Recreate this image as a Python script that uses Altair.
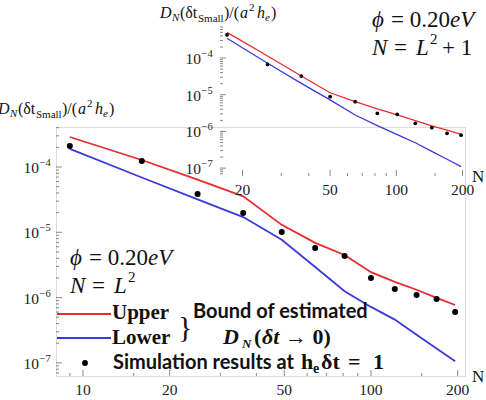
import altair as alt
import pandas as pd

# ---------------- data ----------------
N_MAIN = [9, 16, 25, 36, 49, 64, 81, 100, 121, 144, 169, 196]
UPPER_MAIN = [2.88e-4, 1.28e-4, 6.4e-5, 3.55e-5, 1.3e-5, 6.9e-6, 4.5e-6, 2.45e-6, 1.74e-6, 1.32e-6, 9.9e-7, 7.7e-7]
LOWER_MAIN = [1.89e-4, 6.9e-5, 3.2e-5, 1.71e-5, 7.7e-6, 2.94e-6, 1.25e-6, 7.2e-7, 4.6e-7, 2.7e-7, 1.66e-7, 1.06e-7]
SIM_MAIN = [2.1e-4, 1.24e-4, 3.86e-5, 1.98e-5, 1.01e-5, 5.75e-6, 4.33e-6, 2.0e-6, 1.36e-6, 1.10e-6, 9.5e-7, 6.0e-7]

N_INSET = [17, 26, 37, 50, 65, 82, 101, 122, 145, 170, 197]
UPPER_INSET = [5.0e-4, 1.13e-4, 3.23e-5, 1.13e-5, 6.45e-6, 4.13e-6, 2.8e-6, 1.98e-6, 1.41e-6, 1.08e-6, 8.3e-7]
LOWER_INSET = [3.44e-4, 7.2e-5, 2.04e-5, 7.2e-6, 2.8e-6, 1.44e-6, 8.2e-7, 4.9e-7, 2.86e-7, 1.74e-7, 1.1e-7]
SIM_INSET = [4.24e-4, 6.7e-5, 3.23e-5, 8.8e-6, 6.45e-6, 3.1e-6, 2.9e-6, 1.66e-6, 1.26e-6, 8.9e-7, 7.9e-7]

X_TICKS_MAIN = [10, 20, 50, 100, 200]
X_LABELS_MAIN = ["10", "20", "50", "100", "200"]
X_MINOR_MAIN = [9, 15, 30, 40, 60, 70, 80, 90, 150]
X_TICKS_INSET = [20, 50, 100, 200]
X_LABELS_INSET = ["20", "50", "100", "200"]
X_MINOR_INSET = [30, 40, 60, 70, 80, 90, 150]
Y_TICKS = [1e-7, 1e-6, 1e-5, 1e-4]
Y_TICK_BASE = ["10", "10", "10", "10"]
Y_TICK_EXP = ["−7", "−6", "−5", "−4"]
Y_MINOR = [m * 10.0 ** e for e in (-8, -7, -6, -5, -4) for m in range(2, 10)]

# ---------------- layout / style ----------------
PAD_L, PAD_T = 56, 127
W, H = 409, 249
RED = "#ec2a2e"
BLUE = "#3a3ade"
AX = "#555555"
INK = "#111111"
LAB = "#222222"
SERIF = "Liberation Serif"
SANS = "Lato"

X_MAIN_DOM = [8.058, 212.1]
Y_MAIN_DOM = [10 ** -7.2006, 10 ** -3.3874]
X_IN_DOM = [15.80, 205.2]
Y_IN_DOM = [10 ** -7.2153, 10 ** -3.1008]
X_IN_RANGE = [164, 409]
Y_IN_RANGE = [49, -102]

xm = alt.Scale(type="log", domain=X_MAIN_DOM, nice=False)
ym = alt.Scale(type="log", domain=Y_MAIN_DOM, nice=False)
xi = alt.Scale(type="log", domain=X_IN_DOM, range=X_IN_RANGE, nice=False)
yi = alt.Scale(type="log", domain=Y_IN_DOM, range=Y_IN_RANGE, nice=False)

common_axis = dict(ticks=False, labels=False, grid=False, title=None, domainColor=AX, domainWidth=1)
ax_x_main = alt.Axis(orient="bottom", **common_axis)
ax_y_main = alt.Axis(orient="left", **common_axis)
ax_x_in = alt.Axis(orient="bottom", offset=-(H - Y_IN_RANGE[0]), **common_axis)
ax_y_in = alt.Axis(orient="left", offset=-X_IN_RANGE[0], **common_axis)

main_df = pd.DataFrame({"N": N_MAIN, "upper": UPPER_MAIN, "lower": LOWER_MAIN, "sim": SIM_MAIN})
in_df = pd.DataFrame({"N": N_INSET, "upper": UPPER_INSET, "lower": LOWER_INSET, "sim": SIM_INSET})


def panel(df, xs, ys, axx, axy, lw, dot, ymin, xmin, xmaj, xlabs, xmin_ticks, ylab_dx):
    base = alt.Chart(df)
    up = base.mark_line(color=RED, strokeWidth=lw).encode(
        x=alt.X("N:Q", scale=xs, axis=axx), y=alt.Y("upper:Q", scale=ys, axis=axy))
    lo = base.mark_line(color=BLUE, strokeWidth=lw).encode(
        x=alt.X("N:Q", axis=None), y=alt.Y("lower:Q", axis=None))
    pts = base.mark_circle(color="black", size=dot, opacity=1).encode(
        x=alt.X("N:Q", axis=None), y=alt.Y("sim:Q", axis=None))
    xdf = pd.DataFrame({"v": xmaj, "lab": xlabs})
    xt_major = alt.Chart(xdf).mark_tick(
        orient="vertical", size=6, thickness=1, yOffset=-3, color=AX).encode(
        x=alt.X("v:Q", axis=None), y=alt.YDatum(ymin, axis=None))
    xt_text = alt.Chart(xdf).mark_text(
        font=SERIF, fontSize=15.5, color=LAB, baseline="alphabetic", dy=19).encode(
        x=alt.X("v:Q", axis=None), y=alt.YDatum(ymin, axis=None), text="lab:N")
    xt_minor = alt.Chart(pd.DataFrame({"v": xmin_ticks})).mark_tick(
        orient="vertical", size=3, thickness=1, yOffset=-1.5, color=AX).encode(
        x=alt.X("v:Q", axis=None), y=alt.YDatum(ymin, axis=None))
    ydf = pd.DataFrame({"v": Y_TICKS, "base": Y_TICK_BASE, "exp": Y_TICK_EXP})
    yt_major = alt.Chart(ydf).mark_tick(
        orient="horizontal", size=6, thickness=1, xOffset=3, color=AX).encode(
        x=alt.XDatum(xmin, axis=None), y=alt.Y("v:Q", axis=None))
    yt_base = alt.Chart(ydf).mark_text(
        font=SERIF, fontSize=15.5, color=LAB, align="right", baseline="alphabetic", dx=ylab_dx, dy=6).encode(
        x=alt.XDatum(xmin, axis=None), y=alt.Y("v:Q", axis=None), text="base:N")
    yt_exp = alt.Chart(ydf).mark_text(
        font=SERIF, fontSize=10.5, color=LAB, align="left", baseline="alphabetic", dx=ylab_dx + 0.5, dy=-1).encode(
        x=alt.XDatum(xmin, axis=None), y=alt.Y("v:Q", axis=None), text="exp:N")
    yt_minor = alt.Chart(pd.DataFrame({"v": [v for v in Y_MINOR if ys.domain[0] <= v <= ys.domain[1]]})).mark_tick(
        orient="horizontal", size=3, thickness=1, xOffset=1.5, color=AX).encode(
        x=alt.XDatum(xmin, axis=None), y=alt.Y("v:Q", axis=None))
    return alt.layer(up, lo, pts, xt_major, xt_minor, xt_text, yt_major, yt_minor, yt_base, yt_exp)


main = panel(main_df, xm, ym, ax_x_main, ax_y_main, 1.8, 36, Y_MAIN_DOM[0], X_MAIN_DOM[0],
             X_TICKS_MAIN, X_LABELS_MAIN, X_MINOR_MAIN, -17)
inset = panel(in_df, xi, yi, ax_x_in, ax_y_in, 1.3, 14, Y_IN_DOM[0], X_IN_DOM[0],
              X_TICKS_INSET, X_LABELS_INSET, X_MINOR_INSET, -19)

ONE = pd.DataFrame({"k": [0]})


def T(s, px, py, size=14, font=SERIF, style="normal", weight="normal", align="left", color=INK):
    return alt.Chart(ONE).mark_text(text=s, font=font, fontSize=size, fontStyle=style, fontWeight=weight,
                                    align=align, baseline="alphabetic", color=color).encode(
        x=alt.value(px - PAD_L), y=alt.value(py - PAD_T))


def ytitle(x0, yb):
    return [
        T("D", x0 - 2, yb, 16, style="italic"),
        T("N", x0 + 10, yb + 3, 11, style="italic"),
        T("(δt", x0 + 18, yb, 16),
        T("Small", x0 + 36, yb + 4, 11),
        T(")/(", x0 + 62, yb, 16),
        T("a", x0 + 78, yb, 16, style="italic"),
        T("2", x0 + 87, yb - 7, 11),
        T("h", x0 + 95, yb, 16, style="italic"),
        T("e", x0 + 103, yb + 3, 11, style="italic"),
        T(")", x0 + 109, yb, 16),
    ]


def phi_block(x0, yb, second):
    out = [
        T("ϕ", x0, yb, 23, style="italic"),
        T("= 0.20", x0 + 19, yb, 23),
        T("eV", x0 + 78, yb, 23, style="italic"),
        T("N", x0, yb + 28, 23, style="italic"),
        T("=", x0 + 22, yb + 28, 23),
        T("L", x0 + 44, yb + 28, 23, style="italic"),
        T("2", x0 + 58, yb + 17, 15),
    ]
    if second:
        out += [T("+ 1", x0 + 70, yb + 28, 23)]
    return out


ONE_RULE = alt.Chart(ONE)
legend = [
    ONE_RULE.mark_rule(color=RED, strokeWidth=2.2).encode(
        x=alt.value(57 - PAD_L), x2=alt.value(111 - PAD_L), y=alt.value(314 - PAD_T)),
    ONE_RULE.mark_rule(color=BLUE, strokeWidth=2.2).encode(
        x=alt.value(57 - PAD_L), x2=alt.value(111 - PAD_L), y=alt.value(338 - PAD_T)),
    ONE_RULE.mark_circle(color="black", size=34, opacity=1).encode(
        x=alt.value(85 - PAD_L), y=alt.value(363 - PAD_T)),
    T("Upper", 112, 319, 21, weight="bold"),
    T("Lower", 112, 344, 21, weight="bold"),
    T("}", 178, 337, 30),
    T("Bound of estimated", 193, 318, 20, font=SANS, weight="bold"),
    T("D", 223, 344, 22, style="italic", weight="bold"),
    T("N", 242, 348, 13, style="italic", weight="bold"),
    T("(", 254, 344, 22, weight="bold"),
    T("δt", 262, 344, 22, style="italic", weight="bold"),
    T("→ 0)", 285, 344, 22, weight="bold"),
    T("Simulation results at", 113, 369, 20, font=SANS, weight="bold"),
    T("h", 301, 369, 22, weight="bold"),
    T("e", 313, 373, 14, weight="bold"),
    T("δt", 321, 369, 22, weight="bold"),
    T("=", 348, 369, 22, weight="bold"),
    T("1", 373, 369, 22, weight="bold"),
    T("N", 472, 382, 17),
    T("N", 472, 182, 17),
]

texts = ytitle(0, 114) + ytitle(162, 18) + phi_block(70, 265, False) + phi_block(372, 27, True) + legend

chart = alt.layer(main, inset, *texts).resolve_scale(x="independent", y="independent").properties(
    width=W, height=H,
    padding={"left": PAD_L, "top": PAD_T, "right": 486 - PAD_L - W, "bottom": 400 - PAD_T - H},
    autosize=alt.AutoSizeParams(type="none"),
).configure_view(stroke=None).configure(background="white")

chart.save("out.html", embed_options={"renderer": "svg", "actions": False})
